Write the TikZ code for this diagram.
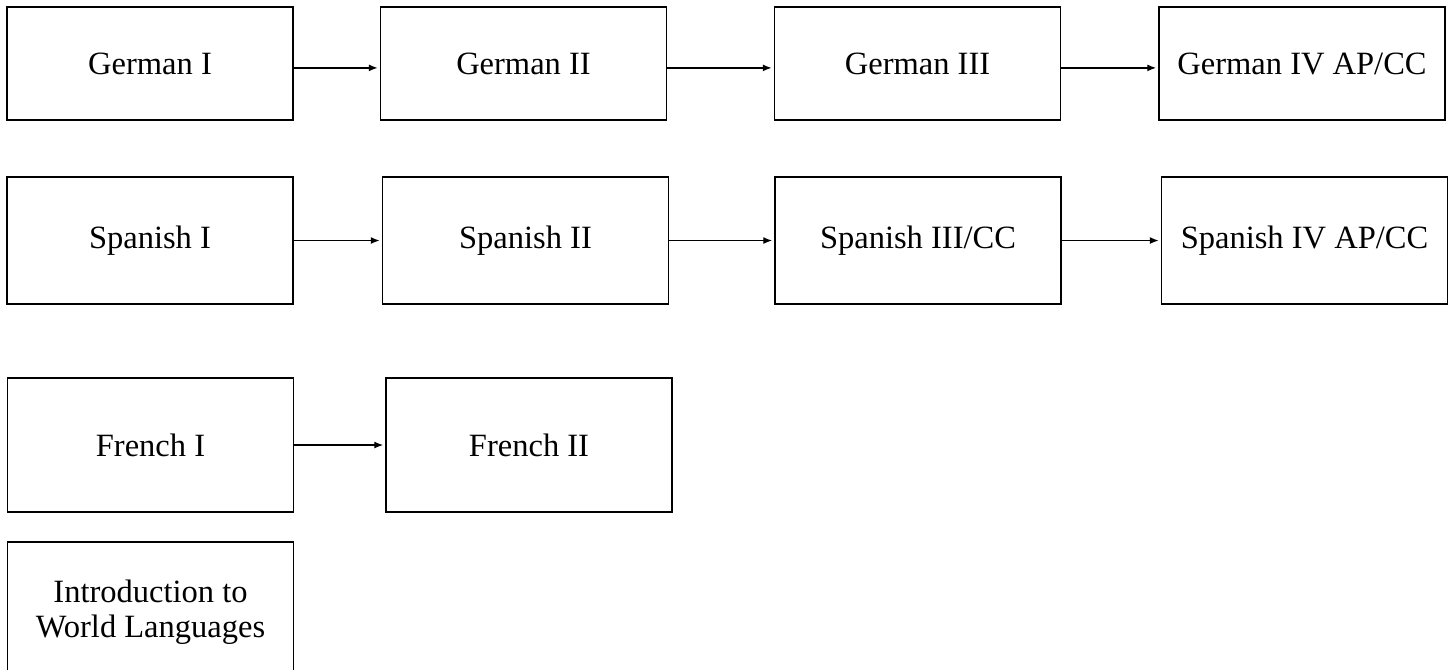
\documentclass[tikz,border=0pt]{standalone}
\usepackage{fontspec}
\setmainfont{Liberation Serif}
\usetikzlibrary{arrows.meta}

\tikzset{
	course/.style={draw, line width=1.1pt, minimum width=5.72cm, inner sep=0pt,
		align=center, font=\fontsize{18.5}{20}\selectfont},
	link/.style={line width=0.8pt, shorten >=1pt, -{Latex[length=1.8mm,width=1.4mm]}}
}

\begin{document}
\begin{tikzpicture}
			\useasboundingbox (0,0) rectangle (29.02,-13.38);
			%%%%%%%%%%%%%%%%%%%%%%%%%%%%%%%%
			\node[course, minimum height=2.26cm] (gerA) at (3.00,-1.27){German I};
			\node[course, minimum height=2.26cm] (gerB) at (10.47,-1.27){German II};
			\node[course, minimum height=2.26cm] (gerC) at (18.35,-1.27){German III};
			\node[course, minimum height=2.26cm] (gerD) at (26.04,-1.27){German IV AP/CC};
			\draw[link] ([yshift=-2.5pt]gerA.east) -- ([yshift=-2.5pt]gerB.west);
			\draw[link] ([yshift=-2.5pt]gerB.east) -- ([yshift=-2.5pt]gerC.west);
			\draw[link] ([yshift=-2.5pt]gerC.east) -- ([yshift=-2.5pt]gerD.west);
			%%%%%%%%%%%%%%%%%%%%%%%%%%%%%%%%
			\node[course, minimum height=2.54cm] (spaA) at (3.00,-4.81){Spanish I};
			\node[course, minimum height=2.54cm] (spaB) at (10.51,-4.81){Spanish II};
			\node[course, minimum height=2.54cm] (spaC) at (18.36,-4.81){Spanish III/CC};
			\node[course, minimum height=2.54cm] (spaD) at (26.09,-4.81){Spanish IV AP/CC};
			\draw[link] (spaA) -- (spaB);
			\draw[link] (spaB) -- (spaC);
			\draw[link] (spaC) -- (spaD);
			%%%%%%%%%%%%%%%%%%%%%%%%%%%%%%%%
			\node[course, minimum height=2.68cm] (freA) at (3.01,-8.90){French I};
			\node[course, minimum height=2.68cm] (freB) at (10.58,-8.90){French II};
			\draw[link] (freA) -- (freB);
			%%%%%%%%%%%%%%%%%%%%%%%%%%%%%
			\node[course, minimum height=2.80cm] (intro) at (3.01,-12.24){Introduction to\\World Languages};
		\end{tikzpicture}
\end{document}
